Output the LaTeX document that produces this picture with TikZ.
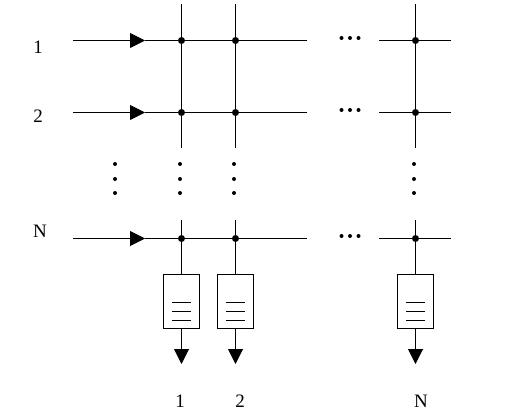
\documentclass[tikz,border=0pt]{standalone}
\usepackage{fontspec}
\setmainfont{Liberation Serif}
\usetikzlibrary{arrows.meta,positioning,calc}
\tikzset{
  wire/.style={draw=black, line width=1pt},
  bigtip/.style={-{Triangle[length=15pt,width=15pt]}},
  joint/.style={circle, fill=black, inner sep=0pt, minimum size=7pt},
  dotmark/.style={circle, fill=black, inner sep=0pt, minimum size=4pt},
  queuebox/.style={draw=black, line width=1pt, fill=white, minimum width=36.5pt, minimum height=54pt, inner sep=0pt},
  tag/.style={inner sep=0pt, font=\fontsize{19}{21}\selectfont}
}
\newcommand{\rowdots}[2]{
  \node[dotmark] (rd#1a) at (#1-8.5,#2) {};
  \node[dotmark] (rd#1b) at (#1,#2) {};
  \node[dotmark] (rd#1c) at (#1+8.5,#2) {};
}
\newcommand{\coldots}[1]{
  \node[dotmark] (cd#1a) at (#1,164) {};
  \node[dotmark] (cd#1b) at (#1,179) {};
  \node[dotmark] (cd#1c) at (#1,193) {};
}
\begin{document}
\begin{tikzpicture}[x=1pt,y=-1pt]
  \useasboundingbox (0,0) rectangle (524,412);
  % rows
  \foreach \r/\y in {a/40.5,b/112.5,n/238.5} {
    \coordinate (in\r) at (73,\y);
    \coordinate (tip\r) at (145,\y);
    \coordinate (out\r) at (307,\y);
    \coordinate (farl\r) at (379,\y);
    \coordinate (farr\r) at (451,\y);
    \foreach \c/\x in {a/181.5,b/235.5,c/415.5}
      \node[joint] (j\r\c) at (\x,\y) {};
    \draw[wire] (tip\r) -- (out\r);
    \draw[wire] (farl\r) -- (farr\r);
    \draw[wire, bigtip] (in\r) -- (tip\r);
  }
  % columns
  \foreach \c/\x in {a/181.5,b/235.5,c/415.5} {
    \coordinate (top\c) at (\x,4);
    \coordinate (end\c) at (\x,148);
    \coordinate (start\c) at (\x,220);
    \coordinate (exit\c) at (\x,364);
    \node[queuebox] (q\c) at (\x,301) {};
    \draw[wire] (top\c) -- (end\c);
    \draw[wire] (start\c) -- (q\c.north);
    \draw[wire, bigtip] (q\c.south) -- (exit\c);
    \foreach \l in {302,311,320}
      \draw[wire] (\x-9.5,\l) -- (\x+9.5,\l);
  }
  % dots
  \rowdots{350}{38}
  \rowdots{350}{110}
  \rowdots{350}{236}
  \coldots{115}
  \coldots{180}
  \coldots{234}
  \coldots{414}
  % labels
  \node[tag] (rowa) at (38,47) {1};
  \node[tag] (rowb) at (38,116) {2};
  \node[tag] (rown) at (40,231) {N};
  \node[tag] (outa) at (180,401) {1};
  \node[tag] (outb) at (240,401) {2};
  \node[tag] (outn) at (421,401) {N};
\end{tikzpicture}
\end{document}
